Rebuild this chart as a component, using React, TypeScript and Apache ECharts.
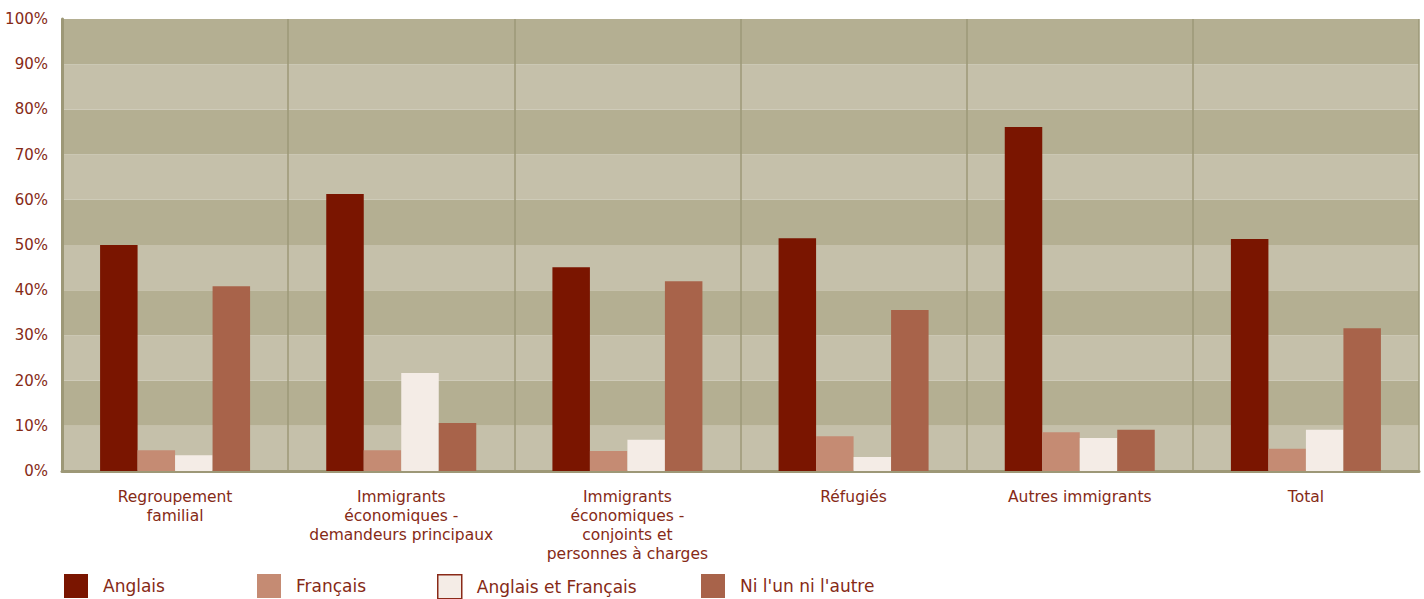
import React, { useEffect, useRef } from "react";
import * as echarts from "echarts";

const categories = [
  "Regroupement\nfamilial",
  "Immigrants\néconomiques -\ndemandeurs principaux",
  "Immigrants\néconomiques -\nconjoints et\npersonnes à charges",
  "Réfugiés",
  "Autres immigrants",
  "Total",
];
const seriesNames = ["Anglais", "Français", "Anglais et Français", "Ni l'un ni l'autre"];
const anglais = [50.0, 61.3, 45.1, 51.5, 76.1, 51.3];
const francais = [4.6, 4.6, 4.4, 7.7, 8.6, 4.9];
const anglaisFrancais = [3.5, 21.7, 6.9, 3.1, 7.3, 9.1];
const niLunNiLautre = [40.9, 10.6, 42.0, 35.6, 9.1, 31.6];
const yTicks = [0, 10, 20, 30, 40, 50, 60, 70, 80, 90, 100];

const colors = ["#7a1500", "#c58b73", "#f4ece6", "#a8634a"];
const textColor = "#862a16";
const axisColor = "#9d9877";
const font = "DejaVu Sans";

export default function App() {
  const ref = useRef<HTMLDivElement>(null);
  useEffect(() => {
    if (!ref.current) return;
    const chart = echarts.init(ref.current, undefined, { renderer: "svg" });
    const data = [anglais, francais, anglaisFrancais, niLunNiLautre];
    const legendLefts = [64, 257, 437, 701];
    chart.setOption({
      animation: false,
      textStyle: { fontFamily: font },
      grid: { left: 62, right: 5, top: 19, bottom: 128 },
      legend: seriesNames.map((n, i) => ({
        left: legendLefts[i],
        top: 574,
        padding: 0,
        itemWidth: 24,
        itemHeight: 24,
        itemGap: 15,
        icon: "rect",
        selectedMode: false,
        textStyle: {
          color: textColor,
          fontSize: 17,
          fontFamily: font,
          padding: [0, 0, 0, 10],
        },
        data: [
          i === 2
            ? { name: n, itemStyle: { color: colors[i], borderColor: "#8a2a18", borderWidth: 1.5 } }
            : { name: n },
        ],
      })),
      xAxis: {
        type: "category",
        data: categories,
        axisTick: { show: false },
        axisLine: { lineStyle: { color: axisColor, width: 3 } },
        splitLine: { show: true, lineStyle: { color: axisColor, width: 1.5 } },
        axisLabel: {
          color: textColor,
          fontSize: 15.5,
          lineHeight: 19,
          margin: 16,
          interval: 0,
          fontFamily: font,
        },
      },
      yAxis: {
        type: "value",
        min: yTicks[0],
        max: yTicks[yTicks.length - 1],
        interval: 10,
        axisLine: { show: true, lineStyle: { color: axisColor, width: 3 } },
        axisTick: { show: false },
        splitLine: { show: false },
        splitArea: { show: true, areaStyle: { color: ["#c5c0aa", "#b4af92"] } },
        axisLabel: {
          color: textColor,
          fontSize: 15,
          margin: 14,
          formatter: "{value}%",
          fontFamily: font,
        },
      },
      series: seriesNames.map((n, i) => ({
        name: n,
        type: "bar",
        data: data[i],
        barWidth: 37.5,
        barGap: "0%",
        itemStyle: { color: colors[i] },
      })),
    });
    return () => chart.dispose();
  }, []);
  return (
    <div
      ref={ref}
      style={{ position: "fixed", left: 0, top: 0, width: 1424, height: 599, background: "#fff" }}
    />
  );
}
